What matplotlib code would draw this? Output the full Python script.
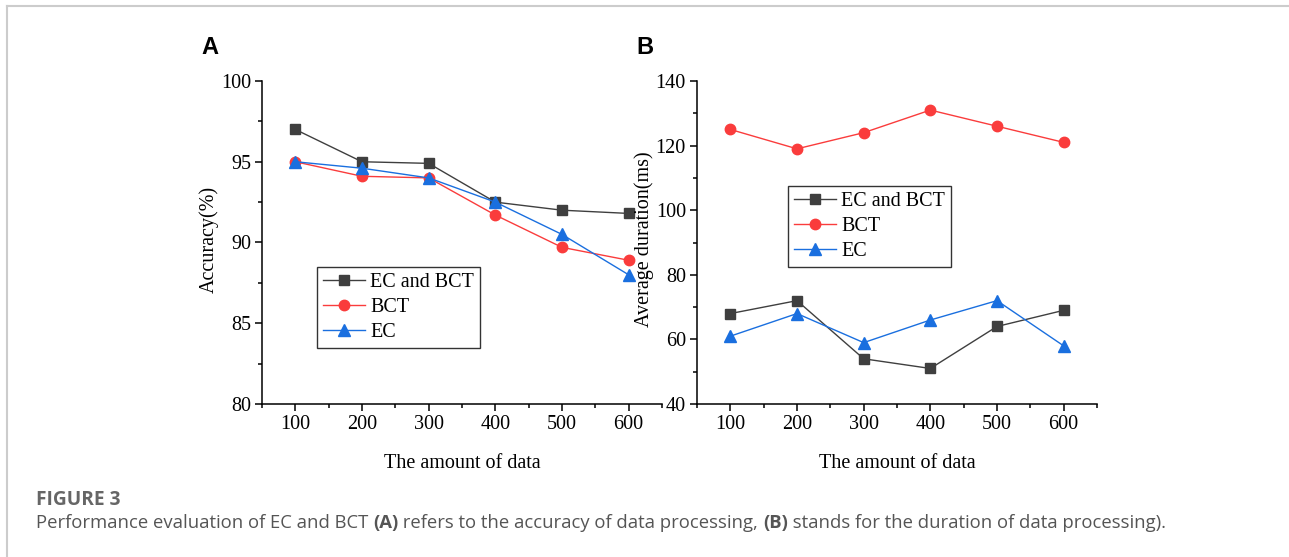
import numpy as np
import matplotlib.pyplot as plt
from matplotlib.lines import Line2D
from matplotlib.ticker import MultipleLocator

# data
amount = [100, 200, 300, 400, 500, 600]

acc_ec_bct = [97.0, 95.0, 94.9, 92.5, 92.0, 91.8]
acc_bct = [95.0, 94.1, 94.0, 91.7, 89.7, 88.9]
acc_ec = [95.0, 94.6, 94.0, 92.5, 90.5, 88.0]

dur_ec_bct = [68, 72, 54, 51, 64, 69]
dur_bct = [125, 119, 124, 131, 126, 121]
dur_ec = [61, 68, 59, 66, 72, 58]

names = ["EC and BCT", "BCT", "EC"]
colors = ["#3f3f3f", "#fa3c3c", "#1a6fdf"]
markers = ["s", "o", "^"]
msizes = [6.5, 7.5, 8]

plt.rcParams['font.family'] = ['Liberation Serif', 'DejaVu Serif']

W, H = 1289, 557
fig = plt.figure(figsize=(W / 100, H / 100), dpi=100)


def px_axes(l, t, r, b):
    return fig.add_axes([l / W, 1 - b / H, (r - l) / W, (b - t) / H])


def style(ax, ylim, ystep, ylabel):
    ax.set_xlim(50, 650)
    ax.set_ylim(*ylim)
    ax.xaxis.set_major_locator(MultipleLocator(100))
    ax.xaxis.set_minor_locator(MultipleLocator(50))
    ax.yaxis.set_major_locator(MultipleLocator(ystep))
    ax.yaxis.set_minor_locator(MultipleLocator(ystep / 2))
    ax.spines['top'].set_visible(False)
    ax.spines['right'].set_visible(False)
    for s in ['left', 'bottom']:
        ax.spines[s].set_linewidth(1.1)
    ax.tick_params(which='major', direction='out', length=5, width=1.1,
                   labelsize=14.5, pad=3)
    ax.tick_params(which='minor', direction='out', length=3, width=1.1)
    ax.set_xlabel("The amount of data", fontsize=14.5, labelpad=14)
    ax.set_ylabel(ylabel, fontsize=14.5)
    ax.yaxis.set_label_coords(-0.108, 0.51)


def draw(ax, series):
    for vals, name, c, m, ms in zip(series, names, colors, markers, msizes):
        ax.plot(amount, vals, color=c, marker=m, markersize=ms, lw=1.0,
                label=name, clip_on=False, zorder=3)


def add_legend(ax, x, y):
    leg = ax.legend(loc='upper left', bbox_to_anchor=(x / W, 1 - y / H),
                    bbox_transform=fig.transFigure, fontsize=14.5, frameon=True,
                    fancybox=False, edgecolor='black', borderpad=0.3,
                    labelspacing=0.3, handlelength=2.1, handletextpad=0.25,
                    borderaxespad=0)
    leg.get_frame().set_linewidth(1.0)


axA = px_axes(262, 81, 662, 404)
draw(axA, [acc_ec_bct, acc_bct, acc_ec])
style(axA, (80, 100), 5, "Accuracy(%)")
add_legend(axA, 317, 267)

axB = px_axes(697, 81, 1097, 404)
draw(axB, [dur_ec_bct, dur_bct, dur_ec])
style(axB, (40, 140), 20, "Average duration(ms)")
add_legend(axB, 788, 186)

fig.text(201 / W, 1 - 47 / H, "A", fontsize=17, fontweight='bold',
         family='Liberation Sans', va='center', ha='left')
fig.text(636 / W, 1 - 47 / H, "B", fontsize=17, fontweight='bold',
         family='Liberation Sans', va='center', ha='left')

# page frame
fig.add_artist(Line2D([6.5 / W, 1], [1 - 5.5 / H, 1 - 5.5 / H],
                      transform=fig.transFigure, color='#cccccc', lw=1.5))
fig.add_artist(Line2D([6.5 / W, 6.5 / W], [0, 1 - 5.5 / H],
                      transform=fig.transFigure, color='#cccccc', lw=1.5))

fig.text(36 / W, 1 - 500 / H, "FIGURE 3", fontsize=13.8, fontweight='bold',
         family='Open Sans', color='#666666', va='center')

# caption written piece by piece so the bold letters use the same font
pieces = [("Performance evaluation of EC and BCT ", 'normal'),
          ("(A)", 'bold'),
          (" refers to the accuracy of data processing, ", 'normal'),
          ("(B)", 'bold'),
          (" stands for the duration of data processing).", 'normal')]
renderer = fig.canvas.get_renderer()
x = 36
for txt, wt in pieces:
    t = fig.text(x / W, 1 - 523 / H, txt, fontsize=13.3, family='Open Sans',
                 fontweight=wt, color='#555555', va='center')
    x = t.get_window_extent(renderer).x1

fig.savefig("out.png", dpi=100)
